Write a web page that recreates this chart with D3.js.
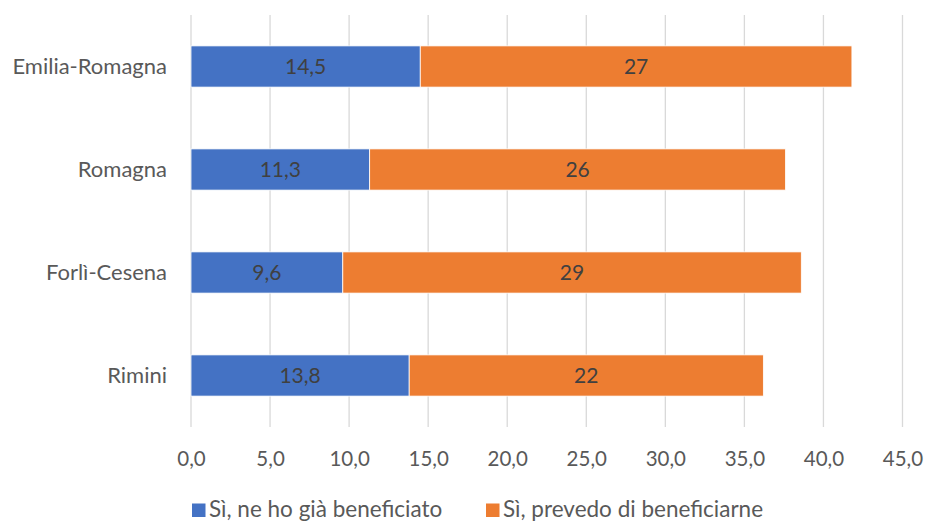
<!DOCTYPE html>
<html><head><meta charset="utf-8">
<script src="https://cdn.jsdelivr.net/npm/d3@7"></script>
<style>body{margin:0;background:#fff}svg{display:block}text{font-family:Lato,"Open Sans",sans-serif}</style>
</head><body><svg id="c" width="927" height="523"></svg>
<script>
const categories = ["Emilia-Romagna","Romagna","Forlì-Cesena","Rimini"];
const seriesNames = ["Sì, ne ho già beneficiato","Sì, prevedo di beneficiarne"];
const giaBeneficiato = [14.5, 11.3, 9.6, 13.8];
const prevedo = [27.3, 26.3, 29.0, 22.4];
const xTicks = [0,5,10,15,20,25,30,35,40,45];
const colors = ["#4472C4","#ED7D31"];

const svg = d3.select("#c");
const x = d3.scaleLinear().domain([0,45]).range([191,902.5]);
const y = d3.scaleBand().domain(categories).range([15,427]).paddingInner(0.6).paddingOuter(0.3);
const fmt1 = v => d3.format(".1f")(v).replace(".",",");
const fmt0 = v => d3.format(".0f")(v);

// gridlines
svg.append("g").selectAll("line").data(xTicks).join("line")
  .attr("x1",d=>x(d)).attr("x2",d=>x(d)).attr("y1",15).attr("y2",427)
  .attr("stroke","#d9d9d9").attr("stroke-width",1.3);

// x axis labels
const xAxis = d3.axisBottom(x).tickValues(xTicks).tickFormat(fmt1).tickSize(0).tickPadding(0);
const gx = svg.append("g").attr("transform","translate(0,466)").call(xAxis);
gx.select(".domain").remove();
gx.selectAll("text").attr("font-size",20.5).attr("fill","#595959").attr("font-family","Lato").attr("dy","0");

// y axis labels
const yAxis = d3.axisLeft(y).tickSize(0).tickPadding(0);
const gy = svg.append("g").attr("transform","translate(167,0)").call(yAxis);
gy.select(".domain").remove();
gy.selectAll("text").attr("font-size",22).attr("fill","#595959").attr("font-family","Lato");

const data = categories.map((c,i)=>({cat:c, a:giaBeneficiato[i], b:prevedo[i]}));
const stack = d3.stack().keys(["a","b"])(data);

stack.forEach((s,si)=>{
  const g = svg.append("g");
  g.selectAll("rect").data(s).join("rect")
    .attr("x",d=>x(d[0])).attr("width",d=>x(d[1])-x(d[0]))
    .attr("y",d=>y(d.data.cat)).attr("height",y.bandwidth())
    .attr("fill",colors[si]).attr("stroke","#fff").attr("stroke-width",0.8);
  g.selectAll("text").data(s).join("text")
    .attr("x",d=>(x(d[0])+x(d[1]))/2).attr("y",d=>y(d.data.cat)+y.bandwidth()/2)
    .attr("dy","0.36em").attr("text-anchor","middle")
    .attr("font-size",21).attr("fill","#404040")
    .text(d=>si===0?fmt1(d[1]-d[0]):fmt0(d[1]-d[0]));
});

// legend
const legX = [192, 486];
const lg = svg.append("g");
seriesNames.forEach((n,i)=>{
  lg.append("rect").attr("x",legX[i]).attr("y",503.5).attr("width",13.5).attr("height",13.5).attr("fill",colors[i]);
  lg.append("text").attr("x",legX[i]+17).attr("y",517)
    .attr("font-size",22.5).attr("fill","#595959").text(n);
});
</script></body></html>
